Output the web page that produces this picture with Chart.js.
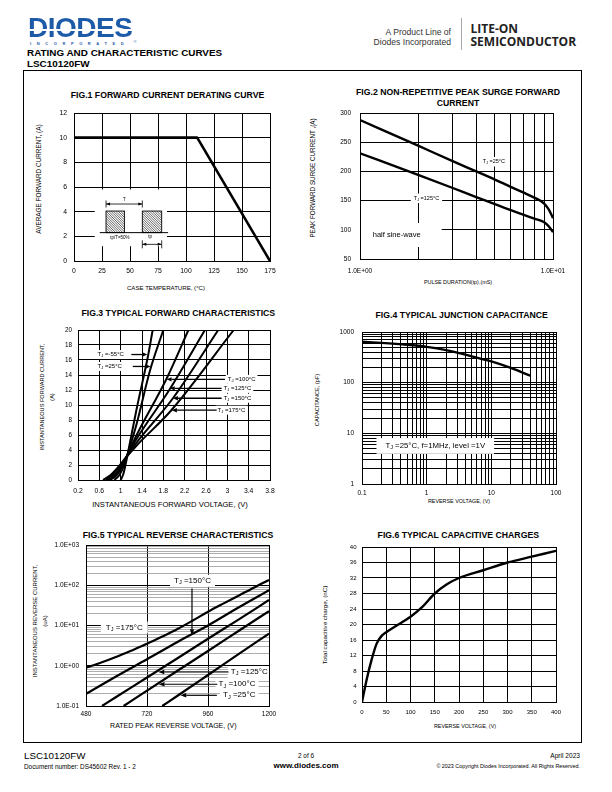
<!DOCTYPE html>
<html>
<head>
<meta charset="utf-8">
<script src="https://cdn.jsdelivr.net/npm/chart.js@4.4.0/dist/chart.umd.min.js"></script>
<style>
  html, body { margin: 0; padding: 0; background: #fff; }
  body { width: 612px; height: 792px; position: relative; overflow: hidden; font-family: 'Liberation Sans', Arial, Helvetica, sans-serif; color: #000; }
  .t { position: absolute; white-space: nowrap; line-height: 1; transform: translate(-50%, -50%); }
  canvas { position: absolute; }
  #frame { position: absolute; left: 23px; top: 70px; width: 557px; height: 671px; border: 1px solid #000; }
  .logo { position: absolute; left: 28px; top: 14px; font-size: 28px; font-weight: bold; letter-spacing: -0.5px; line-height: 1;
    background: linear-gradient(to bottom, #1d5aa8 0 53%, #fff 53% 59%, #1d5aa8 59% 100%); -webkit-background-clip: text; background-clip: text; color: transparent; }
</style>
</head>
<body>
<div id="frame"></div>
<div id="texts"></div>
<canvas id="fig1"></canvas>
<canvas id="fig2"></canvas>
<canvas id="fig3"></canvas>
<canvas id="fig4"></canvas>
<canvas id="fig5"></canvas>
<canvas id="fig6"></canvas>
<script>
// ---------- data ----------
// Fig.1 forward current derating
const caseTemp = [0, 110, 175];
const avgCurrent = [10, 10, 0];
const fig1XTicks = [0, 25, 50, 75, 100, 125, 150, 175];
const fig1YTicks = [0, 2, 4, 6, 8, 10, 12];

// Fig.2 non-repetitive peak surge
const pulseMs = [1, 2, 3, 4, 5, 6, 7, 8, 9, 9.5, 10];
const surge25 = [288, 244, 218, 200, 186, 174, 164, 155, 145, 135, 120];
const surge125 = [231, 194, 172, 156, 144, 134, 126, 119, 113, 106, 96];
const fig2XTicks = [1, 2, 3, 4, 5, 6, 7, 8, 9, 10];
const fig2XLabelAt = [1, 10];
const fig2XLabels = ['1.0E+00', '1.0E+01'];
const fig2YTicks = [50, 100, 150, 200, 250, 300];

// Fig.3 forward characteristics (V, A)
const vfM55 = [1.0, 1.05, 1.09, 1.13, 1.3, 1.52, 1.6];
const ifM55 = [0, 0.8, 2, 3.4, 9.5, 16.8, 20];
const vf25 = [0.88, 0.97, 1.05, 1.12, 1.3, 1.55, 1.8];
const if25 = [0, 0.6, 1.7, 3.2, 7.5, 14.6, 20];
const vf100 = [0.8, 0.92, 1.02, 1.11, 1.3, 1.86, 2.27];
const if100 = [0, 0.6, 1.7, 3.1, 6.0, 13.5, 20];
const vf125 = [0.76, 0.88, 1.0, 1.1, 1.3, 1.92, 2.58];
const if125 = [0, 0.6, 1.7, 3.0, 5.5, 12.1, 20];
const vf150 = [0.72, 0.85, 0.98, 1.1, 1.3, 1.98, 2.83];
const if150 = [0, 0.7, 1.8, 3.0, 5.0, 10.9, 20];
const vf175 = [0.67, 0.8, 0.95, 1.1, 1.3, 1.95, 3.12];
const if175 = [0, 0.6, 1.7, 3.0, 4.6, 9.3, 20];
const fig3XTicks = [0.2, 0.6, 1, 1.4, 1.8, 2.2, 2.6, 3, 3.4, 3.8];
const fig3YTicks = [0, 2, 4, 6, 8, 10, 12, 14, 16, 18, 20];

// Fig.4 junction capacitance
const capV = [0.1, 0.2, 0.5, 1, 2, 5, 10, 20, 40];
const capPF = [640, 610, 560, 510, 440, 330, 262, 195, 137];
const fig4XDecades = [0.1, 1, 10, 100];
const fig4XLabels = ['0.1', '1', '10', '100'];
const fig4YDecades = [1, 10, 100, 1000];
const fig4YLabels = ['1', '10', '100', '1000'];

// Fig.5 reverse characteristics (V, uA)
const vr175 = [480, 540, 600, 660, 720, 780, 840, 900, 960, 1020, 1080, 1140, 1200];
const ir175 = [0.89, 1.2, 1.67, 2.4, 3.5, 5.3, 8.2, 13.3, 22, 35, 55, 87, 135];
const vr150 = [480, 600, 720, 840, 960, 1080, 1200];
const ir150 = [0.2, 0.55, 1.45, 3.9, 10, 28, 75];
const vr125 = [543, 600, 720, 840, 960, 1080, 1200];
const ir125 = [0.1, 0.17, 0.51, 1.54, 4.7, 14, 43];
const vr100 = [628, 720, 840, 960, 1080, 1200];
const ir100 = [0.1, 0.24, 0.75, 2.33, 7.3, 22.8];
const vr25 = [780, 840, 960, 1080, 1200];
const ir25 = [0.1, 0.18, 0.59, 1.94, 6.3];
const fig5XTicks = [480, 720, 960, 1200];
const fig5YDecades = [0.1, 1, 10, 100, 1000];
const fig5YLabels = ['1.0E-01', '1.0E+00', '1.0E+01', '1.0E+02', '1.0E+03'];

// Fig.6 capacitive charge
const qcV = [0, 10, 20, 30, 40, 50, 75, 100, 125, 150, 175, 200, 250, 300, 350, 400];
const qcNC = [0, 6, 11, 15, 17, 18, 20, 22, 24.6, 28, 30.4, 32, 34, 36, 37.5, 39];
const fig6XTicks = [0, 50, 100, 150, 200, 250, 300, 350, 400];
const fig6YTicks = [0, 4, 8, 12, 16, 20, 24, 28, 32, 36, 40];

// ---------- annotations (data coordinates) ----------
const fig1Notes = [
  { type: 'mask', x0: 18.5, x1: 83, y0: 1.2, y1: 5.8 },
  { type: 'line', x0: 23, y0: 2.3, x1: 84, y1: 2.3, lw: 1 },
  { type: 'hatch', x0: 28.6, x1: 45, y0: 2.3, y1: 4.05 },
  { type: 'hatch', x0: 61, x1: 78.3, y0: 2.3, y1: 4.05 },
  { type: 'dim', x0: 28.6, x1: 61, y: 4.62, bar: 7 },
  { type: 'text', text: 'T', x: 45, y: 5.0, size: 4.5 },
  { type: 'text', text: 'tp/T=50%', x: 41, y: 1.9, size: 4.5 },
  { type: 'dim', x0: 61, x1: 78.3, y: 1.35, bar: 8 },
  { type: 'text', text: 'tp', x: 68, y: 1.95, size: 4.5 },
];
const fig2Notes = [
  { type: 'mask', x0: 1, x1: 2.65, y0: 70.5, y1: 111.6 },
  { type: 'text', text: 'half sine-wave', x: 1.55, y: 91, size: 7.5 },
  { type: 'text', text: 'T_J =25°C', x: 4.94, y: 216.6, size: 5.5, bg: true, padX: 3, padY: 2 },
  { type: 'text', text: 'T_J =125°C', x: 2.21, y: 154, size: 5.5, bg: true, padX: 3, padY: 2 },
];
const fig3Notes = [
  { type: 'text', text: 'T_J =-55°C', x: 0.814, y: 16.73, size: 6, bg: true, padX: 2, padY: 1.5 },
  { type: 'arrow', x0: 1.2, y0: 16.73, x1: 1.5, y1: 16.73 },
  { type: 'text', text: 'T_J =25°C', x: 0.795, y: 15.14, size: 6, bg: true, padX: 2, padY: 1.5 },
  { type: 'arrow', x0: 1.227, y0: 15.14, x1: 1.56, y1: 15.14 },
  { type: 'text', text: 'T_J =100°C', x: 3.268, y: 13.42, size: 6, bg: true, padX: 2, padY: 1.5 },
  { type: 'arrow', x0: 2.955, y0: 13.42, x1: 1.86, y1: 13.42 },
  { type: 'text', text: 'T_J =125°C', x: 3.19, y: 12.22, size: 6, bg: true, padX: 2, padY: 1.5 },
  { type: 'arrow', x0: 2.893, y0: 12.22, x1: 1.92, y1: 12.22 },
  { type: 'text', text: 'T_J =150°C', x: 3.19, y: 10.9, size: 6, bg: true, padX: 2, padY: 1.5 },
  { type: 'arrow', x0: 2.893, y0: 10.9, x1: 1.98, y1: 10.9 },
  { type: 'text', text: 'T_J =175°C', x: 3.077, y: 9.31, size: 6, bg: true, padX: 2, padY: 1.5 },
  { type: 'arrow', x0: 2.8, y0: 9.31, x1: 1.96, y1: 9.31 },
];
const fig4Notes = [
  { type: 'text', text: 'T_J =25°C, f=1MHz, level =1V', x: 1.36, y: 5.64, size: 7.8, bg: true, padX: 9, padY: 4 },
];
const fig5Notes = [
  { type: 'text', text: 'T_J =150°C', x: 899, y: 129, size: 8, bg: true, padX: 4, padY: 2 },
  { type: 'arrow', x0: 897, y0: 83.6, x1: 897, y1: 5.75, lw: 1.2, len: 6 },
  { type: 'text', text: 'T_J =175°C', x: 630.7, y: 8.9, size: 8, bg: true, padX: 5, padY: 2 },
  { type: 'text', text: 'T_J =125°C', x: 1122.5, y: 0.70, size: 8, bg: true, padX: 3, padY: 2 },
  { type: 'arrow', x0: 1041, y0: 0.70, x1: 764.5, y1: 0.70, lw: 1.2, len: 6 },
  { type: 'text', text: 'T_J =100°C', x: 1074, y: 0.347, size: 8, bg: true, padX: 3, padY: 2 },
  { type: 'arrow', x0: 996.6, y0: 0.347, x1: 765.6, y1: 0.347, lw: 1.2, len: 6 },
  { type: 'text', text: 'T_J =25°C', x: 1083, y: 0.1845, size: 8, bg: true, padX: 3, padY: 2 },
  { type: 'arrow', x0: 995, y0: 0.1845, x1: 851, y1: 0.1845, lw: 1.2, len: 6 },
];

// ---------- page text ----------
const FONT = "'Liberation Sans', Arial, Helvetica, sans-serif";

function txt(s, x, y, size, extra = '') {
  return `<div class="t" style="left:${x}px;top:${y}px;font-size:${size}px;${extra}">${s}</div>`;
}
const ROT = 'transform:translate(-50%,-50%) rotate(-90deg);';
const LEFT = 'transform:translate(0,-50%);';
const RIGHT = 'transform:translate(-100%,-50%);';
const B = 'font-weight:bold;';

document.getElementById('texts').innerHTML = `
  <div class="logo">DIODES</div>
  ${txt('INCORPORATED', 30, 44, 4, LEFT + 'letter-spacing:5.6px;color:#1d5aa8;font-weight:bold;')}
  ${txt('®', 135, 42, 4, 'color:#1d5aa8;')}
  ${txt('A Product Line of', 451, 31.5, 8.6, RIGHT + 'color:#333;')}
  ${txt('Diodes Incorporated', 451, 41.5, 8.6, RIGHT + 'color:#333;')}
  <div style="position:absolute;left:461px;top:18px;width:1px;height:32px;background:#aaa"></div>
  ${txt('LITE-ON', 470.5, 29, 12, LEFT + B + "font-family:'Open Sans',sans-serif;color:#222;")}
  ${txt('SEMICONDUCTOR', 470.5, 42, 12, LEFT + B + "font-family:'Open Sans',sans-serif;color:#222;")}
  ${txt('RATING AND CHARACTERISTIC CURVES', 27, 53, 9.9, LEFT + B)}
  ${txt('LSC10120FW', 27, 64, 9.9, LEFT + B)}

  ${txt('FIG.1 FORWARD CURRENT DERATING CURVE', 167.5, 95, 8.7, B)}
  ${txt('CASE TEMPERATURE, (°C)', 166, 288, 6.1)}
  ${txt('AVERAGE FORWARD CURRENT, (A)', 39, 179, 6.4, ROT)}

  ${txt('FIG.2 NON-REPETITIVE PEAK SURGE FORWARD', 458, 92, 8.7, B)}
  ${txt('CURRENT', 458, 102.5, 8.7, B)}
  ${txt('PULSE DURATION(tp),(mS)', 458, 283.3, 5.4)}
  ${txt('PEAK FORWARD SURGE CURRENT ,(A)', 313, 178, 6.3, ROT)}

  ${txt('FIG.3 TYPICAL FORWARD CHARACTERISTICS', 178.3, 313.3, 8.7, B)}
  ${txt('INSTANTANEOUS FORWARD VOLTAGE, (V)', 170, 505, 7.6)}
  ${txt('INSTANTANEOUS FORWARD CURRENT,', 42.7, 396.5, 5.6, ROT)}
  ${txt('(A)', 53.3, 396.5, 5.6, ROT)}

  ${txt('FIG.4 TYPICAL JUNCTION CAPACITANCE', 461.7, 315, 8.7, B)}
  ${txt('REVERSE VOLTAGE, (V)', 459, 501.7, 5.4)}
  ${txt('CAPACITANCE, (pF)', 318, 400, 5.6, ROT)}

  ${txt('FIG.5 TYPICAL REVERSE CHARACTERISTICS', 178, 535, 8.7, B)}
  ${txt('RATED PEAK REVERSE VOLTAGE, (V)', 173.3, 725, 7)}
  ${txt('INSTANTANEOUS REVERSE CURRENT,', 35, 620.5, 6, ROT)}
  ${txt('(uA)', 45, 620.5, 6, ROT)}

  ${txt('FIG.6 TYPICAL CAPACITIVE CHARGES', 458.3, 535, 8.7, B)}
  ${txt('REVERSE VOLTAGE, (V)', 465, 726.7, 5.4)}
  ${txt('Total capacitive charge, (nC)', 325, 625, 6.2, ROT)}

  ${txt('LSC10120FW', 24, 756, 9.8, LEFT)}
  ${txt('Document number: DS45602 Rev. 1 - 2', 24, 767, 6.4, LEFT)}
  ${txt('2 of 6', 306, 755.5, 6.4)}
  ${txt('www.diodes.com', 306, 766, 8, B)}
  ${txt('April 2023', 580, 756, 6.6, RIGHT)}
  ${txt('© 2023 Copyright Diodes Incorporated. All Rights Reserved.', 580, 766.5, 5.4, RIGHT)}
`;

// ---------- Chart.js helpers ----------
Chart.defaults.font.family = FONT;
Chart.defaults.font.size = 6.5;
Chart.defaults.color = '#000';

function richParts(str) {
  const parts = [];
  const re = /_(.)/g;
  let last = 0, m;
  while ((m = re.exec(str))) {
    if (m.index > last) parts.push({ t: str.slice(last, m.index) });
    parts.push({ t: m[1], sub: true });
    last = re.lastIndex;
  }
  if (last < str.length) parts.push({ t: str.slice(last) });
  return parts;
}

function drawRich(ctx, it, cx, cy) {
  const size = it.size || 6;
  const parts = richParts(it.text);
  let w = 0;
  parts.forEach(p => { ctx.font = `${p.sub ? size * 0.7 : size}px ${FONT}`; p.w = ctx.measureText(p.t).width; w += p.w; });
  if (it.bg) {
    const px = it.padX || 2, py = it.padY || 1.5;
    ctx.fillStyle = '#fff';
    ctx.fillRect(cx - w / 2 - px, cy - size / 2 - py, w + 2 * px, size + 2 * py);
  }
  ctx.fillStyle = '#000';
  ctx.textBaseline = 'middle';
  ctx.textAlign = 'left';
  let x = cx - w / 2;
  parts.forEach(p => {
    ctx.font = `${p.sub ? size * 0.7 : size}px ${FONT}`;
    ctx.fillText(p.t, x, cy + (p.sub ? size * 0.22 : 0));
    x += p.w;
  });
}

function head(ctx, x0, y0, x1, y1, len, half) {
  const a = Math.atan2(y1 - y0, x1 - x0);
  const c = Math.cos(a), s = Math.sin(a);
  ctx.beginPath();
  ctx.moveTo(x1, y1);
  ctx.lineTo(x1 - len * c + half * s, y1 - len * s - half * c);
  ctx.lineTo(x1 - len * c - half * s, y1 - len * s + half * c);
  ctx.closePath();
  ctx.fill();
}

const notesPlugin = {
  id: 'notes',
  beforeDatasetsDraw(chart, args, opts) {
    const items = opts.items || [];
    const { ctx } = chart;
    const X = v => chart.scales.x.getPixelForValue(v);
    const Y = v => chart.scales.y.getPixelForValue(v);
    ctx.save();
    ctx.strokeStyle = '#000';
    ctx.fillStyle = '#000';
    items.forEach(it => {
      if (it.type === 'mask') {
        ctx.fillStyle = '#fff';
        ctx.fillRect(X(it.x0), Y(it.y1), X(it.x1) - X(it.x0), Y(it.y0) - Y(it.y1));
        ctx.fillStyle = '#000';
      } else if (it.type === 'line') {
        ctx.lineWidth = it.lw || 1;
        ctx.beginPath(); ctx.moveTo(X(it.x0), Y(it.y0)); ctx.lineTo(X(it.x1), Y(it.y1)); ctx.stroke();
      } else if (it.type === 'hatch') {
        const l = X(it.x0), t = Y(it.y1), w = X(it.x1) - l, h = Y(it.y0) - t;
        ctx.save();
        ctx.beginPath(); ctx.rect(l, t, w, h); ctx.clip();
        ctx.lineWidth = 0.6;
        ctx.beginPath();
        for (let k = -h; k < w; k += 2.4) { ctx.moveTo(l + k, t); ctx.lineTo(l + k + h, t + h); }
        ctx.stroke();
        ctx.restore();
        ctx.lineWidth = 0.9;
        ctx.strokeRect(l, t, w, h);
      } else if (it.type === 'dim') {
        const a = X(it.x0), b = X(it.x1), y = Y(it.y), hb = it.bar / 2;
        ctx.lineWidth = 0.8;
        ctx.beginPath();
        ctx.moveTo(a, y); ctx.lineTo(b, y);
        ctx.moveTo(a, y - hb); ctx.lineTo(a, y + hb);
        ctx.moveTo(b, y - hb); ctx.lineTo(b, y + hb);
        ctx.stroke();
        head(ctx, b, y, a, y, 4, 1.5);
        head(ctx, a, y, b, y, 4, 1.5);
      } else if (it.type === 'arrow') {
        const x0 = X(it.x0), y0 = Y(it.y0), x1 = X(it.x1), y1 = Y(it.y1);
        const len = it.len || 5;
        const a = Math.atan2(y1 - y0, x1 - x0);
        ctx.lineWidth = it.lw || 1.3;
        ctx.beginPath(); ctx.moveTo(x0, y0); ctx.lineTo(x1 - len * Math.cos(a), y1 - len * Math.sin(a)); ctx.stroke();
        head(ctx, x0, y0, x1, y1, len, 2.2);
      } else if (it.type === 'text') {
        drawRich(ctx, it, X(it.x), Y(it.y));
      }
    });
    ctx.restore();
  }
};

const framePlugin = {
  id: 'frame',
  afterDatasetsDraw(chart) {
    const { ctx, chartArea: a } = chart;
    ctx.save();
    ctx.strokeStyle = '#000';
    ctx.lineWidth = 1;
    ctx.strokeRect(Math.round(a.left) + 0.5, Math.round(a.top) + 0.5, Math.round(a.right - a.left), Math.round(a.bottom - a.top));
    ctx.restore();
  }
};

function pts(xs, ys) { return xs.map((x, i) => ({ x, y: ys[i] })); }

function curve(xs, ys, w, smooth) {
  return { data: pts(xs, ys), borderColor: '#000', backgroundColor: '#000', borderWidth: w, pointRadius: 0, fill: false,
    tension: 0, cubicInterpolationMode: smooth ? 'monotone' : 'default', borderCapStyle: 'butt', borderJoinStyle: 'round' };
}

function labelFrom(vals, labels) {
  return v => {
    const i = vals.findIndex(d => Math.abs(d - v) <= Math.abs(d) * 1e-6);
    return i < 0 ? '' : labels[i];
  };
}

function logGrid(decades) {
  const out = [];
  decades.forEach((d, i) => {
    if (i === decades.length - 1) { out.push(d); return; }
    for (let k = 1; k < 10; k++) out.push(d * k);
  });
  return out;
}

function isDecade(v) { const l = Math.log10(v); return Math.abs(l - Math.round(l)) < 1e-6; }

function axisCfg(o) {
  return {
    type: o.type || 'linear', min: o.min, max: o.max,
    afterBuildTicks: s => { s.ticks = o.grid.map(v => ({ value: v })); },
    afterFit: s => { if (o.isX) s.height = o.size; else s.width = o.size; },
    ticks: { autoSkip: false, maxRotation: 0, minRotation: 0, padding: o.pad, font: { size: o.font || 6.5 },
      callback: o.label || (v => String(v)) },
    grid: { drawTicks: false, color: o.gridColor || '#000', lineWidth: o.gridWidth || 1 },
    border: { color: '#000', width: 1 },
  };
}

// the y scale asks for (half label + tick padding) above the plot, so padT has to exceed it
function makeChart(id, box, xAxis, yAxis, datasets, notes) {
  const padL = 45, padR = 22, padT = 16, padB = 20;
  const cv = document.getElementById(id);
  const w = box.R - box.L + padL + padR, h = box.B - box.T + padT + padB;
  Object.assign(cv.style, { left: (box.L - padL) + 'px', top: (box.T - padT) + 'px', width: w + 'px', height: h + 'px' });
  cv.width = w; cv.height = h;
  return new Chart(cv, {
    type: 'line',
    data: { datasets },
    options: {
      responsive: false, animation: false, devicePixelRatio: 1,
      layout: { padding: { left: 0, right: padR, top: padT, bottom: 0 } },
      plugins: { legend: { display: false }, tooltip: { enabled: false }, notes: { items: notes || [] } },
      scales: { x: axisCfg({ ...xAxis, isX: true, size: padB }), y: axisCfg({ ...yAxis, size: padL }) },
    },
    plugins: [notesPlugin, framePlugin],
  });
}

// ---------- the six figures ----------
makeChart('fig1', { L: 74, T: 113, R: 270, B: 261 },
  { min: 0, max: 175, grid: fig1XTicks, pad: 6.5, font: 6.8 },
  { min: 0, max: 12, grid: fig1YTicks, pad: 7, font: 6.8 },
  [curve(caseTemp, avgCurrent, 2.6, false)], fig1Notes);

makeChart('fig2', { L: 360, T: 113, R: 553, B: 259 },
  { type: 'logarithmic', min: 1, max: 10, grid: fig2XTicks, pad: 8.5, label: labelFrom(fig2XLabelAt, fig2XLabels) },
  { min: 50, max: 300, grid: fig2YTicks, pad: 9 },
  [curve(pulseMs, surge25, 2.4, true), curve(pulseMs, surge125, 2.4, true)], fig2Notes);

makeChart('fig3', { L: 78, T: 330, R: 270, B: 480 },
  { min: 0.2, max: 3.8, grid: fig3XTicks, pad: 7.5, font: 6.8 },
  { min: 0, max: 20, grid: fig3YTicks, pad: 6, font: 6.3 },
  [curve(vfM55, ifM55, 2, true), curve(vf25, if25, 2, true), curve(vf100, if100, 2, true),
   curve(vf125, if125, 2, true), curve(vf150, if150, 2, true), curve(vf175, if175, 2, true)], fig3Notes);

makeChart('fig4', { L: 362, T: 332, R: 556, B: 484 },
  { type: 'logarithmic', min: 0.1, max: 100, grid: logGrid(fig4XDecades), pad: 5, label: labelFrom(fig4XDecades, fig4XLabels) },
  { type: 'logarithmic', min: 1, max: 1000, grid: logGrid(fig4YDecades), pad: 8, label: labelFrom(fig4YDecades, fig4YLabels) },
  [curve(capV, capPF, 2.4, true)], fig4Notes);

makeChart('fig5', { L: 86, T: 545, R: 269, B: 706 },
  { min: 480, max: 1200, grid: fig5XTicks, pad: 4.5 },
  { type: 'logarithmic', min: 0.1, max: 1000, grid: logGrid(fig5YDecades), pad: 7, label: labelFrom(fig5YDecades, fig5YLabels),
    gridColor: c => (c.tick && isDecade(c.tick.value)) ? '#000' : '#8a8a8a', gridWidth: c => (c.tick && isDecade(c.tick.value)) ? 1 : 0.7 },
  [curve(vr175, ir175, 2.2, true), curve(vr150, ir150, 2.2, true), curve(vr125, ir125, 2.2, true),
   curve(vr100, ir100, 2.2, true), curve(vr25, ir25, 2.2, true)], fig5Notes);

makeChart('fig6', { L: 362, T: 547, R: 556, B: 702 },
  { min: 0, max: 400, grid: fig6XTicks, pad: 6.5, font: 6 },
  { min: 0, max: 40, grid: fig6YTicks, pad: 5.5, font: 6 },
  [curve(qcV, qcNC, 2.4, true)]);
</script>
</body>
</html>
